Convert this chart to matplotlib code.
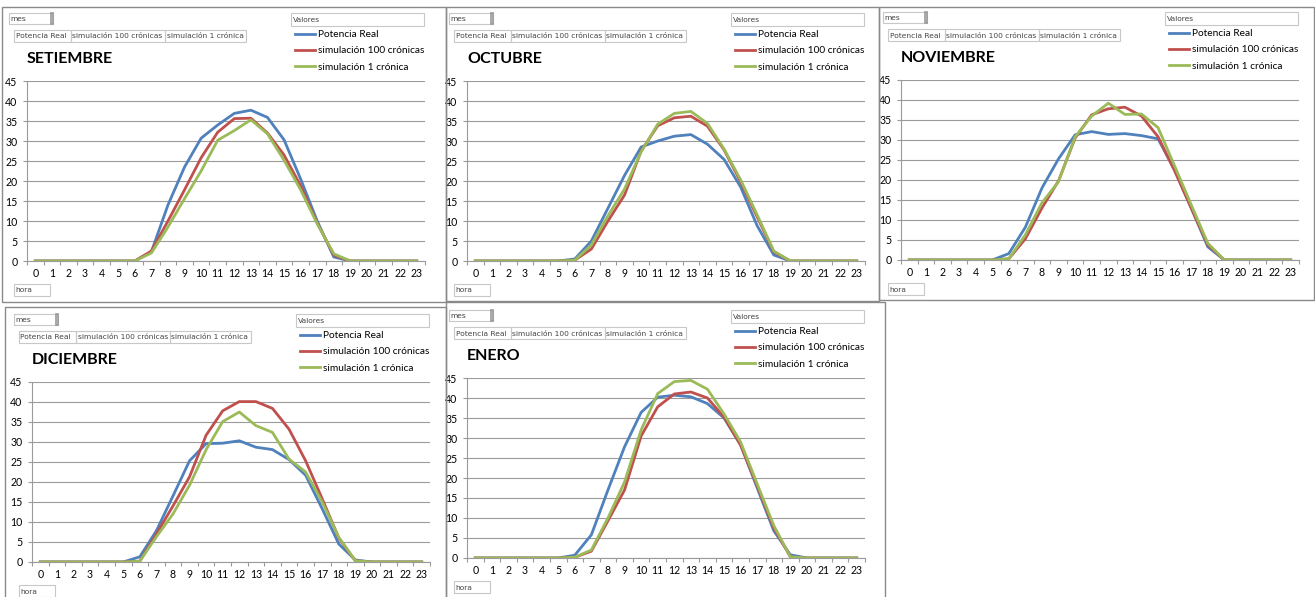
import matplotlib.pyplot as plt
from matplotlib.patches import Rectangle

W, H = 1315, 597

horas = list(range(24))
series = ["Potencia Real", "simulación 100 crónicas", "simulación 1 crónica"]
colores = ["#4F81BD", "#C0504D", "#9BBB59"]

# valores (kW por hora)
set_real = [0]*7 + [2.3, 14, 23.5, 30.7, 34, 36.9, 37.7, 35.9, 30.3, 20.5, 10, 1, 0, 0, 0, 0, 0]
set_s100 = [0]*7 + [2.5, 10, 17.8, 25.8, 32.2, 35.6, 35.7, 32, 26.5, 18.8, 9.5, 1.5, 0, 0, 0, 0, 0]
set_s1 = [0]*7 + [2, 8.5, 15.6, 22.5, 30.2, 32.6, 35.3, 31.8, 25.2, 17.8, 9.3, 1.8, 0, 0, 0, 0, 0]

oct_real = [0]*6 + [0.5, 5, 13.2, 21.4, 28.5, 30, 31.2, 31.6, 29.2, 25.4, 18.5, 8.8, 1.5, 0, 0, 0, 0, 0]
oct_s100 = [0]*6 + [0.2, 3, 10, 16.5, 27.5, 33.8, 35.8, 36.2, 33.7, 27.8, 19.8, 11, 2.3, 0, 0, 0, 0, 0]
oct_s1 = [0]*6 + [0.2, 4, 11.3, 18, 27.3, 34.2, 36.9, 37.4, 34.4, 28, 20.3, 11.5, 2.5, 0, 0, 0, 0, 0]

nov_real = [0]*6 + [1.6, 8.2, 18, 25.3, 31.3, 32.1, 31.4, 31.6, 31.1, 30.3, 22.5, 13, 3.3, 0, 0, 0, 0, 0]
nov_s100 = [0]*6 + [0.3, 5.3, 13, 19.8, 30.5, 36.3, 37.8, 38.2, 36, 30.8, 22.3, 13, 3.8, 0, 0, 0, 0, 0]
nov_s1 = [0]*6 + [0.3, 6.3, 14.3, 19.6, 30.8, 36, 39.2, 36.4, 36.5, 33.1, 23.5, 13.8, 4.2, 0, 0, 0, 0, 0]

dic_real = [0]*6 + [1.3, 7.8, 16.5, 25.3, 29.6, 29.7, 30.3, 28.7, 28.1, 25.6, 21.7, 13.3, 4.5, 0.5, 0, 0, 0, 0]
dic_s100 = [0]*6 + [0.2, 7, 14, 21.3, 31.7, 37.8, 40.1, 40.1, 38.4, 33.2, 25.3, 15.8, 6, 0.3, 0, 0, 0, 0]
dic_s1 = [0]*6 + [0.2, 6.3, 12, 19.2, 28.1, 35.1, 37.5, 34.1, 32.4, 25.7, 22.5, 15, 6.2, 0.3, 0, 0, 0, 0]

ene_real = [0]*6 + [0.7, 5.8, 17, 27.8, 36.4, 40.2, 40.7, 40.3, 38.6, 35, 28.3, 17.5, 6.8, 0.8, 0, 0, 0, 0]
ene_s100 = [0]*6 + [0.2, 1.7, 9.3, 17, 30.5, 37.8, 41, 41.5, 40, 35.2, 28.2, 18, 7.5, 0.3, 0, 0, 0, 0]
ene_s1 = [0]*6 + [0.2, 2, 10, 19, 32, 41.1, 44.1, 44.4, 42.2, 36, 29, 18.5, 8.1, 0.3, 0, 0, 0, 0]

meses = ["SETIEMBRE", "OCTUBRE", "NOVIEMBRE", "DICIEMBRE", "ENERO"]
datos = [
    (set_real, set_s100, set_s1),
    (oct_real, oct_s100, oct_s1),
    (nov_real, nov_s100, nov_s1),
    (dic_real, dic_s100, dic_s1),
    (ene_real, ene_s100, ene_s1),
]

# desplazamiento de cada panel (px) y su marco
offsets = [(0, 0), (440, 0), (874, -1), (5, 301), (440, 297)]
marcos = [(2, 7, 446, 302), (446, 7, 879, 301), (879, 7, 1314, 300),
          (5, 307, 446, 600), (446, 302, 885, 600)]

GRIS = "#9a9a9a"


def fx(x):
    return x / W


def fy(y):
    return 1 - y / H


def caja(fig, x0, y0, x1, y1, ec="#c8c8c8", lw=0.8):
    fig.add_artist(Rectangle((fx(x0), fy(y1)), (x1 - x0) / W, (y1 - y0) / H,
                             transform=fig.transFigure, fill=False, ec=ec, lw=lw))


def boton(fig, x0, y0, x1, y1, texto):
    caja(fig, x0, y0, x1, y1)
    fig.text(fx(x0 + 1.5), fy((y0 + y1) / 2 + 0.5), texto, fontsize=5.4,
             family="DejaVu Sans", color="#444444", va="center", ha="left")


fig = plt.figure(figsize=(W / 100, H / 100), dpi=100)
fig.patch.set_facecolor("white")

for mes, vals, (dx, dy), marco in zip(meses, datos, offsets, marcos):
    caja(fig, *marco, ec="#8a8a8a", lw=1.0)

    ax = fig.add_axes([fx(dx + 27), fy(dy + 261), 398 / W, 180 / H])
    for v, nombre, c in zip(vals, series, colores):
        ax.plot(horas, v, color=c, lw=2.0, label=nombre, solid_joinstyle="round")

    ax.set_xlim(-0.5, 23.5)
    ax.set_ylim(0, 45)
    ax.set_yticks(range(0, 46, 5))
    ax.set_xticks(horas)
    ax.set_xticks([h - 0.5 for h in range(25)], minor=True)
    ax.tick_params(axis="x", which="major", length=0, pad=5, labelsize=7.6)
    ax.tick_params(axis="x", which="minor", length=3, color=GRIS, width=0.8)
    ax.tick_params(axis="y", length=3, color=GRIS, width=0.8, pad=4, labelsize=7.6)
    for lab in ax.get_xticklabels() + ax.get_yticklabels():
        lab.set_family("Lato")
    ax.grid(axis="y", color=GRIS, lw=0.8)
    ax.set_axisbelow(True)
    for s in ["top", "right"]:
        ax.spines[s].set_visible(False)
    for s in ["left", "bottom"]:
        ax.spines[s].set_color(GRIS)
        ax.spines[s].set_linewidth(0.8)

    fig.text(fx(dx + 27), fy(dy + 59), mes, fontsize=11.5, fontweight="bold",
             family="Lato", va="center", ha="left")

    # botones de campo del gráfico dinámico
    boton(fig, dx + 9, dy + 13, dx + 53, dy + 24, "mes")
    caja(fig, dx + 51, dy + 13, dx + 53, dy + 24, ec="#9a9a9a", lw=1.2)
    boton(fig, dx + 14, dy + 30, dx + 71, dy + 42, "Potencia Real")
    boton(fig, dx + 71, dy + 30, dx + 165, dy + 42, "simulación 100 crónicas")
    boton(fig, dx + 165, dy + 30, dx + 246, dy + 42, "simulación 1 crónica")
    boton(fig, dx + 291, dy + 13, dx + 424, dy + 26, "Valores")
    boton(fig, dx + 14, dy + 284, dx + 50, dy + 296, "hora")

    ax.legend(loc="upper left", bbox_to_anchor=(fx(dx + 295), fy(dy + 30)),
              bbox_transform=fig.transFigure, frameon=False,
              prop={"family": "Lato", "size": 7.3}, handlelength=2.0,
              handletextpad=0.25, labelspacing=0.72, borderpad=0, borderaxespad=0)

fig.savefig("out.png", dpi=100)
